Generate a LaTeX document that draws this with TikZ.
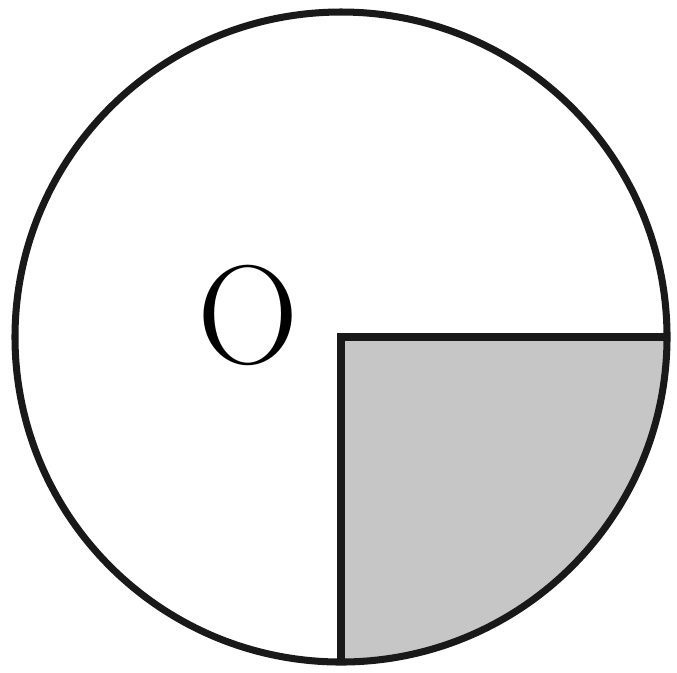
\documentclass[tikz,border=0pt]{standalone}
\usetikzlibrary{calc}
\definecolor{sectorgray}{RGB}{198,198,198}
\begin{document}
\begin{tikzpicture}[x=0.01cm,y=-0.01cm,
  outline/.style={draw=black!90,line width=2pt},
  sector/.style={draw=black!90,line width=2.2pt,line join=miter},
  lbl/.style={font=\fontsize{40}{40}\selectfont,inner sep=0pt}]
\useasboundingbox (0,0) rectangle (677,672);
\coordinate (c) at (341,337);
\coordinate (b) at (341,661);
\coordinate (r) at (666,337);
\fill[sectorgray] (c) -- (r) arc[start angle=0,end angle=90,x radius=326,y radius=325] -- cycle;
\draw[outline] (c) ellipse[x radius=326,y radius=325];
\draw[sector] (b) -- (c) -- (r);
\node[lbl] (o) at (248,315) {O};
\end{tikzpicture}
\end{document}
